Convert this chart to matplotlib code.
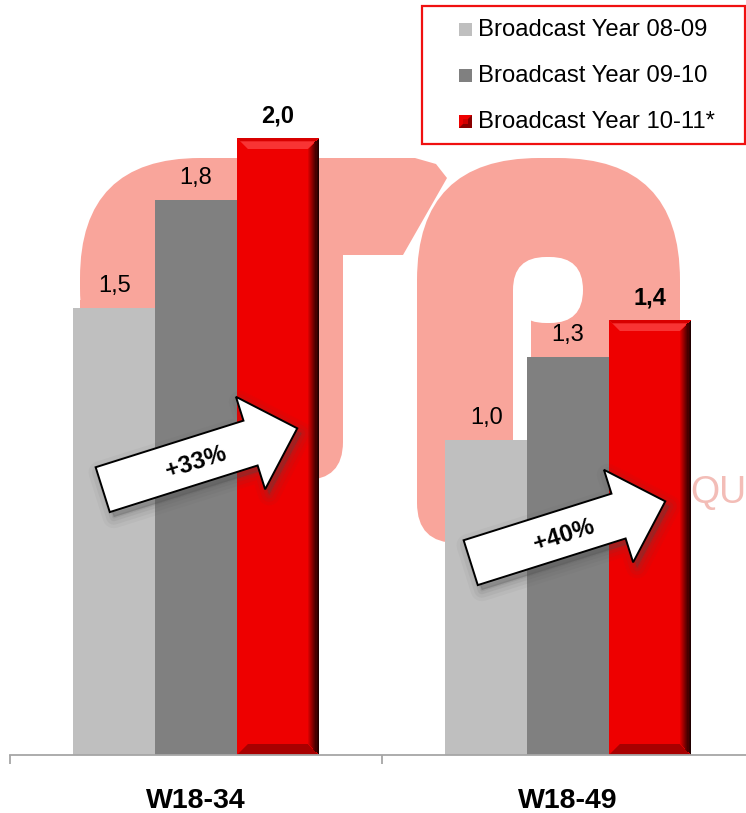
import matplotlib

matplotlib.use("Agg")

import matplotlib.pyplot as plt
import numpy as np
from matplotlib.patches import FancyBboxPatch, Polygon, Rectangle

plt.rcParams["font.family"] = ["Liberation Sans", "DejaVu Sans"]

categories = ["W18-34", "W18-49"]
series_names = ["Broadcast Year 08-09", "Broadcast Year 09-10", "Broadcast Year 10-11*"]
values_0809 = [1.45, 1.02]
values_0910 = [1.80, 1.29]
values_1011 = [2.00, 1.41]
labels_0809 = ["1,5", "1,0"]
labels_0910 = ["1,8", "1,3"]
labels_1011 = ["2,0", "1,4"]
growth_labels = ["+33%", "+40%"]

W, H = 746, 813
LIGHT = "#BFBFBF"
DARK = "#808080"
RED = "#EE0000"
PINK = "#F9A59B"
AXIS = "#A6A6A6"

fig = plt.figure(figsize=(W / 100, H / 100), dpi=100)

# background layer in pixel coords (watermark)
bg = fig.add_axes([0, 0, 1, 1], zorder=0)
bg.set_xlim(0, W)
bg.set_ylim(H, 0)
bg.axis("off")


def rbox(x, y, w, h, r, color):
    bg.add_patch(FancyBboxPatch((x, y), w, h, boxstyle=f"round,pad=0,rounding_size={r}",
                                fc=color, ec="none", mutation_aspect=1))


# "r"
rbox(80, 158, 263, 250, 120, PINK)
bg.add_patch(Rectangle((80, 300), 263, 140, fc=PINK, ec="none"))
bg.add_patch(Rectangle((220, 158), 123, 260, fc=PINK, ec="none"))
rbox(80, 380, 263, 100, 38, PINK)
bg.add_patch(Polygon([(240, 158), (415, 158), (436, 164), (447, 178), (403, 255), (343, 255), (343, 200)],
                     closed=True, fc=PINK, ec="none"))
# "p"
rbox(417, 158, 263, 300, 122, PINK)
rbox(417, 300, 96, 243, 40, PINK)
rbox(513, 257, 70, 66, 33, "white")
bg.add_patch(Rectangle((513, 290), 18, 160, fc="white", ec="none"))
bg.text(690, 503, "QU", fontsize=27, color="#F3BDB7", ha="left", va="baseline")

# main chart
ax = fig.add_axes([10 / W, (H - 755) / H, 744 / W, 740 / H], zorder=1)
ax.patch.set_alpha(0)
ax.set_xlim(-0.5, 1.5)
ax.set_ylim(0, 740 / 308.5)

x = np.arange(len(categories))
width = 0.22
series_vals = [values_0809, values_0910, values_1011]
series_labels = [labels_0809, labels_0910, labels_1011]
colors = [LIGHT, DARK, RED]
bar_groups = []
for i, (vals, col) in enumerate(zip(series_vals, colors)):
    bars = ax.bar(x + (i - 1) * width, vals, width, color=col, edgecolor="none", zorder=2)
    bar_groups.append(bars)
    for xi, v, lab in zip(x + (i - 1) * width, vals, series_labels[i]):
        ax.annotate(lab, (xi, v), xytext=(0, 11.5), textcoords="offset points",
                    ha="center", va="baseline", fontsize=17,
                    fontweight="bold" if i == 2 else "normal", color="black", zorder=4)

# bevel on red bars
sx = 2.0 / 744
sy = (740 / 308.5) / 740
b = 11
n = 10
for bar in bar_groups[2]:
    x0, y0 = bar.get_x(), 0
    x1, y1 = x0 + bar.get_width(), bar.get_height()
    bx, by = b * sx, b * sy
    ax.add_patch(Polygon([(x0, y1), (x1, y1), (x1 - bx, y1 - by), (x0 + bx, y1 - by)],
                         closed=True, fc="#F83434", ec="none", zorder=2.5))
    ax.add_patch(Polygon([(x0, y1), (x1, y1), (x1 - bx * 0.3, y1 - by * 0.3), (x0 + bx * 0.3, y1 - by * 0.3)],
                         closed=True, fc="#D80000", ec="none", zorder=2.6))
    ax.add_patch(Polygon([(x0, y0), (x1, y0), (x1 - bx, y0 + by), (x0 + bx, y0 + by)],
                         closed=True, fc="#A80000", ec="none", zorder=2.5))
    for k in range(n):
        t = (k + 1) / n
        xs = x1 - bx + k * bx / n
        c = (0.93 * (1 - t) + 0.12 * t, 0, 0)
        ax.add_patch(Rectangle((xs, y0 + by * (1 - k / n)), bx / n + 1e-4,
                               (y1 - y0) - 2 * by * (1 - k / n), fc=c, ec="none", zorder=2.7))

for s in ["top", "left", "right"]:
    ax.spines[s].set_visible(False)
ax.spines["bottom"].set_color(AXIS)
ax.spines["bottom"].set_linewidth(1.3)
ax.set_yticks([])
ax.set_xticks(x)
ax.set_xticklabels(categories, fontsize=20.5, fontweight="bold")
ax.set_xticks([-0.5, 0.5, 1.5], minor=True)
ax.tick_params(axis="x", which="major", length=0, pad=24)
ax.tick_params(axis="x", which="minor", length=6.5, width=1.3, color=AXIS)

# foreground layer: arrows and legend
fg = fig.add_axes([0, 0, 1, 1], zorder=2)
fg.set_xlim(0, W)
fg.set_ylim(H, 0)
fg.axis("off")
fg.patch.set_alpha(0)


def arrow_pts(cx, cy, L=204, sw=47, hw=97, hl=49, ang=17.5):
    a = np.radians(ang)
    d = np.array([np.cos(a), -np.sin(a)])
    nrm = np.array([np.sin(a), np.cos(a)])
    loc = [(-L / 2, -sw / 2), (L / 2 - hl, -sw / 2), (L / 2 - hl, -hw / 2), (L / 2, 0),
           (L / 2 - hl, hw / 2), (L / 2 - hl, sw / 2), (-L / 2, sw / 2)]
    c = np.array([cx, cy])
    return np.array([c + u * d + v * nrm for u, v in loc])


centres = [(200, 459), (568, 532)]
for (cx, cy), txt in zip(centres, growth_labels):
    pts = arrow_pts(cx, cy)
    for lw, al in [(16, 0.05), (11, 0.07), (6, 0.09), (2, 0.12)]:
        fg.add_patch(Polygon(pts + np.array([4, 5]), closed=True, fc=(0.3, 0.3, 0.3, al),
                             ec=(0.3, 0.3, 0.3, al), lw=lw, joinstyle="round"))
    fg.add_patch(Polygon(pts, closed=True, fc="white", ec="black", lw=1.4, joinstyle="miter"))
    fg.text(cx - 4, cy + 3, txt, rotation=17.5, rotation_mode="anchor", ha="center", va="center",
            fontsize=17.5, fontweight="bold", color="black")

# legend
fg.add_patch(Rectangle((422, 6), 323, 138, fc="white", ec="#F01010", lw=1.6))
rows = [30, 76, 122]
for name, col, ry in zip(series_names, colors, rows):
    fg.add_patch(Rectangle((459, ry - 6.5), 13, 13, fc=col, ec="none"))
    if col == RED:
        fg.add_patch(Polygon([(472, ry - 6.5), (472, ry + 6.5), (459, ry + 6.5)], closed=True,
                             fc="#8A0000", ec="none"))
        fg.add_patch(Polygon([(463, ry - 2.5), (468, ry - 2.5), (468, ry + 2.5), (463, ry + 2.5)],
                             closed=True, fc="#D00000", ec="none"))
    fg.text(478, ry, name, fontsize=17.2, ha="left", va="center", color="black")

fig.savefig("out.png", dpi=100)
